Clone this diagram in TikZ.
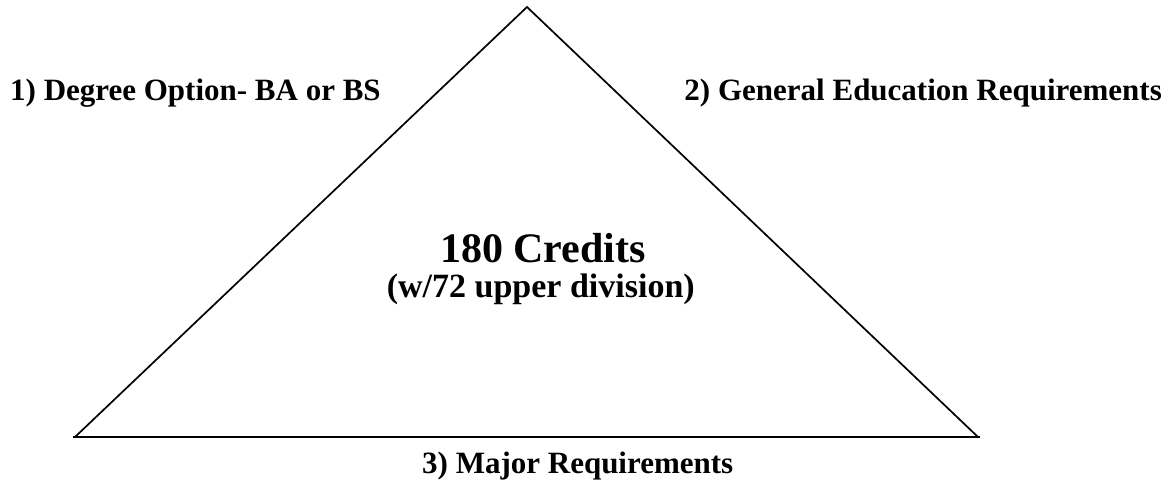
\documentclass[tikz,border=0pt]{standalone}
\usepackage{fontspec}
\setmainfont{Liberation Serif}
\begin{document}
\begin{tikzpicture}[x=1pt,y=-1pt,
  side/.style={line width=1.7pt,line join=miter},
  baseline/.style={line width=2.4pt},
  lbl/.style={inner sep=0pt,font=\fontsize{31}{34}\selectfont\bfseries},
  big/.style={inner sep=0pt,font=\fontsize{42}{46}\selectfont\bfseries},
  sub/.style={inner sep=0pt,font=\fontsize{34}{38}\selectfont\bfseries}]
\useasboundingbox (0,0) rectangle (1170,486);
\coordinate (apex) at (527,7);
\coordinate (bl) at (75,437);
\coordinate (br) at (978,437);
\coordinate (bl2) at (73,437);
\coordinate (br2) at (980,437);
\draw[side] (bl) -- (apex) -- (br);
\draw[baseline] (bl2) -- (br2);
\node[lbl,anchor=base west] (deg) at (10,101) {1) Degree Option- BA or BS};
\node[lbl,anchor=base east] (gen) at (1162,101) {2) General Education Requirements};
\node[big,anchor=base] (cred) at (543,263) {180 Credits};
\node[sub,anchor=base east] (upper) at (695,298) {(w/72 upper division)};
\node[lbl,anchor=base west] (major) at (422,473) {3) Major Requirements};
\end{tikzpicture}
\end{document}
